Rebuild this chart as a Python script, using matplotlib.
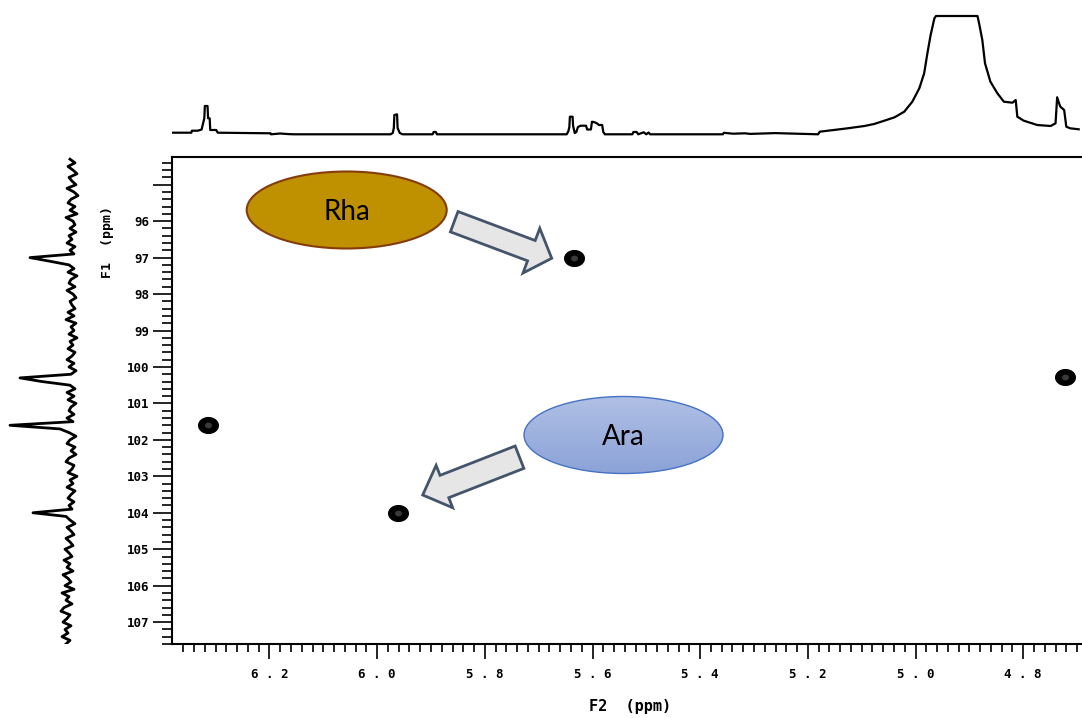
import numpy as np
import matplotlib
matplotlib.use('agg')
import matplotlib.pyplot as plt
from matplotlib.patches import Ellipse, FancyArrow
from matplotlib.path import Path

# cross peaks (F2 = 1H, F1 = 13C), ppm
peak_f2 = [5.635, 6.315, 5.961, 4.722]
peak_f1 = [97.0, 101.6, 104.0, 100.27]

# 1H projection on top: ppm and height above baseline
h_ppm = [6.382, 6.345, 6.344, 6.333, 6.326, 6.321, 6.320, 6.315, 6.314, 6.311,
         6.310, 6.299, 6.296, 6.198, 6.197, 6.180, 6.165, 6.154, 5.975, 5.971,
         5.969, 5.968, 5.963, 5.962, 5.958, 5.953, 5.897, 5.895, 5.891, 5.889,
         5.648, 5.645, 5.643, 5.642, 5.637, 5.636, 5.633, 5.630, 5.627, 5.622,
         5.612, 5.610, 5.603, 5.601, 5.596, 5.592, 5.588, 5.582, 5.580, 5.577,
         5.526, 5.524, 5.518, 5.515, 5.505, 5.500, 5.496, 5.493, 5.358, 5.356,
         5.339, 5.317, 5.307, 5.261, 5.181, 5.178, 5.126, 5.095, 5.077, 5.058,
         5.039, 5.021, 5.006, 4.993, 4.984, 4.978, 4.972, 4.965, 4.962, 4.885,
         4.882, 4.876, 4.871, 4.861, 4.848, 4.836, 4.820, 4.814, 4.811, 4.799,
         4.774, 4.749, 4.740, 4.737, 4.733, 4.731, 4.724, 4.720, 4.713, 4.697]
h_int = [1.6, 1.6, 3.6, 3.6, 4.8, 16.0, 28.3, 28.3, 16.0, 16.0,
         4.3, 4.3, 1.6, 1.0, 0.0, 0.8, 0.2, 0.0, 0.0, 1.3,
         6.3, 19.3, 20.0, 6.3, 1.3, 0.0, 0.0, 2.3, 2.3, 0.0,
         0.0, 2.8, 7.3, 17.6, 17.6, 8.3, 1.3, 2.3, 7.3, 8.6,
         8.6, 4.8, 4.8, 12.6, 12.0, 11.0, 9.3, 9.3, 2.3, 0.0,
         0.0, 2.3, 2.3, 0.0, 2.0, 0.0, 1.8, 0.0, 0.0, 1.5,
         0.6, 1.0, 0.4, 1.2, 0.0, 2.6, 6.0, 8.3, 10.3, 13.6,
         17.0, 22.6, 32.6, 46.0, 61.0, 81.0, 99.3, 116.0, 118.3, 118.3,
         111.0, 94.3, 71.0, 52.6, 41.0, 32.6, 31.6, 34.3, 17.6, 13.6,
         9.3, 8.3, 11.0, 37.0, 30.3, 27.6, 24.3, 7.6, 6.0, 5.0]

# 13C projection on the left, 0.1 ppm steps from 94.3 to 107.6
c_ppm = np.round(np.arange(94.3, 107.65, 0.1), 1)
c_int = [2, -3, 4, -1, -5, 3, 0, -4, 5, -2,
         -6, 1, 4, -3, 2, -5, 6, -1, -3, 2,
         -4, 3, 0, 5, -3, 2, -2, 42, 22, 3,
         -2, 4, -5, 1, 3, -3, 5, -1, -4, 2,
         0, -3, 4, -2, 6, -4, 1, -2, 3, -5,
         2, -1, 4, -3, 0, 5, -2, 3, -4, 1,
         52, 30, 2, -3, 5, -2, 4, -4, 1, 3,
         -2, 5, -1, 62, 12, 3, -4, 2, 5, -3,
         1, -4, 3, 6, -2, 0, 4, -5, 2, -1,
         5, -3, 1, 4, -2, 3, 0, 39, 6, 2,
         -3, 5, 1, -2, 6, 2, -1, 7, 3, 0,
         8, 2, 5, -1, 9, 4, 1, 7, -2, 10,
         3, 6, 0, 8, 11, 2, 5, 9, 1, 7,
         4, 10, 2, 6]

x_major = [6.2, 6.0, 5.8, 5.6, 5.4, 5.2, 5.0, 4.8]
y_major = [95, 96, 97, 98, 99, 100, 101, 102, 103, 104, 105, 106, 107]

W, H = 1082, 718
fig = plt.figure(figsize=(W / 100, H / 100), dpi=100)
tick_font = dict(family='DejaVu Sans Mono', weight='bold')

# main 2D panel
ax = fig.add_axes([172 / W, (H - 644) / H, (1090 - 172) / W, (644 - 157) / H])
ax.set_xlim(6.381, 4.676)
ax.set_ylim(107.6, 94.24)
t = np.linspace(0, 2 * np.pi, 40)
blob = Path(np.column_stack([np.cos(t), 0.8 * np.sin(t)]), closed=True)
ax.scatter(peak_f2, peak_f1, s=200, marker=blob, color='black', zorder=3)
ax.scatter(peak_f2, peak_f1, s=16, marker=blob, color='#3a3a3a', zorder=4)

ax.spines['right'].set_visible(False)
for s in ['left', 'top', 'bottom']:
    ax.spines[s].set_linewidth(1.5)
ax.set_xticks(x_major)
ax.set_xticklabels([f"{v:.1f}".replace('.', ' . ') for v in x_major], fontsize=9, **tick_font)
ax.set_xticks(np.round(np.arange(4.70, 6.38, 0.02), 2), minor=True)
ax.set_yticks(y_major)
ax.set_yticklabels(['' if v == 95 else str(v) for v in y_major], fontsize=9, **tick_font)
ax.set_yticks(np.round(np.arange(94.4, 107.61, 0.2), 1), minor=True)
ax.tick_params(axis='x', which='major', direction='out', length=11, width=1.2, pad=6)
ax.tick_params(axis='x', which='minor', direction='out', length=6, width=1.2)
ax.tick_params(axis='y', which='major', direction='out', length=14, width=1.2, pad=2)
ax.tick_params(axis='y', which='minor', direction='out', length=7, width=1.2)
fig.text(630 / W, 1 - 706 / H, 'F2  (ppm)', ha='center', va='center', fontsize=11, **tick_font)
fig.text(108 / W, 1 - 242 / H, 'F1  (ppm)', ha='center', va='center', rotation=90, fontsize=9.5, **tick_font)

# top projection
axt = fig.add_axes([172 / W, (H - 145) / H, (1090 - 172) / W, 145 / H])
axt.plot(h_ppm, h_int, color='black', lw=1.6)
axt.set_xlim(6.381, 4.676)
axt.set_ylim(-10.7, 134.3)
axt.axis('off')

# left projection
axl = fig.add_axes([0, (H - 644) / H, 90 / W, (644 - 157) / H])
axl.plot(c_int, c_ppm, color='black', lw=2.0)
axl.set_xlim(72, -18)
axl.set_ylim(107.6, 94.24)
axl.axis('off')

# annotation overlay in pixel coordinates
ov = fig.add_axes([0, 0, 1, 1])
ov.set_xlim(0, W)
ov.set_ylim(H, 0)
ov.axis('off')

rha = Ellipse((346.7, 210), 200, 77, facecolor='#BF9000', edgecolor='#843C0C', lw=1.5)
ov.add_patch(rha)
ov.text(346.7, 212, 'Rha', ha='center', va='center', fontsize=20, family='Lato')

ara = Ellipse((623.5, 435), 199, 77, facecolor='none', edgecolor='#4472C4', lw=1.0, zorder=3)
grad = np.linspace(0, 1, 100)[:, None]
cmap = matplotlib.colors.LinearSegmentedColormap.from_list('ara', ['#B0C0E5', '#8CA3D8'])
im = ov.imshow(grad, cmap=cmap, extent=(524, 723, 473.5, 396.5), aspect='auto', zorder=2)
ov.add_patch(ara)
im.set_clip_path(ara)
ov.text(623.5, 437, 'Ara', ha='center', va='center', fontsize=20, family='Lato', zorder=4)

arrow_style = dict(facecolor='#E7E6E6', edgecolor='#44546A', lw=2.0,
                   length_includes_head=True, zorder=5)
ov.add_patch(FancyArrow(454.2, 221.7, 97.5, 36.6, width=21.7, head_width=47.8,
                        head_length=21.7, **arrow_style))
ov.add_patch(FancyArrow(519.5, 457.2, -96.8, 37.8, width=24, head_width=45.5,
                        head_length=23.3, **arrow_style))
ov.set_xlim(0, W)
ov.set_ylim(H, 0)

fig.savefig('out.png', dpi=100)
